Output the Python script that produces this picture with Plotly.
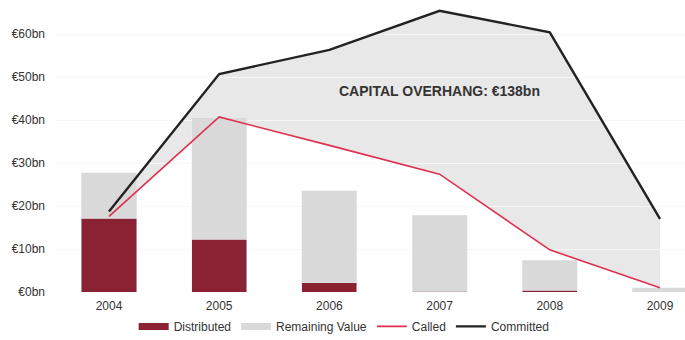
import plotly.graph_objects as go

# Fund vintage data (EUR bn)
years = ["2004", "2005", "2006", "2007", "2008", "2009"]
distributed = [17.2, 12.3, 2.1, 0.2, 0.4, 0.0]
remaining_value = [10.5, 28.2, 21.5, 17.7, 7.0, 1.0]
called = [17.6, 40.7, 34.1, 27.4, 9.8, 1.0]
committed = [18.7, 50.7, 56.3, 65.4, 60.4, 17.0]
y_ticks = [0, 10, 20, 30, 40, 50, 60]

MAROON = "#8a2233"
BAR_GREY = "#d9d9d9"
FILL_GREY = "#e8e8e8"
RED = "#e0304f"
BLACK = "#222222"
TEXT = "#333333"
FONT = "Liberation Sans, Arial, sans-serif"

xs = list(range(len(years)))
overhang = round(sum(c - k for c, k in zip(committed, called)))

# Shaded overhang polygon between called and committed, drawn beneath the bars
pts = [(x, v) for x, v in zip(xs, committed)] + [(x, v) for x, v in zip(xs[::-1], called[::-1])]
path = "M " + " L ".join(f"{x},{y}" for x, y in pts) + " Z"

fig = go.Figure()

fig.add_trace(go.Bar(x=xs, y=distributed, marker_color=MAROON, width=0.5,
                     showlegend=False, name="Distributed"))
fig.add_trace(go.Bar(x=xs, y=remaining_value, marker_color=BAR_GREY, width=0.5,
                     showlegend=False, name="Remaining Value"))
fig.add_trace(go.Scatter(x=xs, y=called, mode="lines", line=dict(color=RED, width=1.6),
                         showlegend=False, name="Called"))
fig.add_trace(go.Scatter(x=xs, y=committed, mode="lines", line=dict(color=BLACK, width=2.4),
                         showlegend=False, name="Committed"))

# Legend entries (wide swatches)
for name, color, w in [("Distributed", MAROON, 7), ("Remaining Value", BAR_GREY, 7),
                       ("Called", RED, 1.6), ("Committed", BLACK, 2.4)]:
    fig.add_trace(go.Scatter(x=[None], y=[None], mode="lines", name=name,
                             line=dict(color=color, width=w)))

fig.add_shape(type="path", path=path, xref="x", yref="y", layer="below",
              fillcolor=FILL_GREY, line=dict(width=0))

fig.add_annotation(x=3.0, y=46.8, xref="x", yref="y",
                   text=f"<b>CAPITAL OVERHANG: €{overhang}bn</b>", showarrow=False,
                   font=dict(family=FONT, size=14, color=TEXT))

fig.update_layout(
    width=685, height=340,
    margin=dict(l=55, r=0, t=8, b=48, autoexpand=False),
    barmode="stack",
    plot_bgcolor="white", paper_bgcolor="white",
    font=dict(family=FONT, size=12, color=TEXT),
    legend=dict(orientation="h", traceorder="normal", xanchor="center", x=0.459,
                yref="container", yanchor="middle", y=0.04,
                font=dict(size=12, color=TEXT), itemwidth=30, tracegroupgap=0,
                bgcolor="rgba(0,0,0,0)"),
    xaxis=dict(tickmode="array", tickvals=xs, ticktext=years, range=[-0.49, 5.227],
               showgrid=False, zeroline=False, showline=False, ticks="",
               tickfont=dict(size=12), ticklabelstandoff=5, automargin=False),
    yaxis=dict(tickmode="array", tickvals=y_ticks, ticktext=[f"€{v}bn" for v in y_ticks],
               range=[0, 66.05], showgrid=True, gridcolor="#f7f7f7", zeroline=False,
               showline=False, ticks="", ticklabelstandoff=9, automargin=False,
               tickfont=dict(size=12)),
)

fig.write_html("out.html")
